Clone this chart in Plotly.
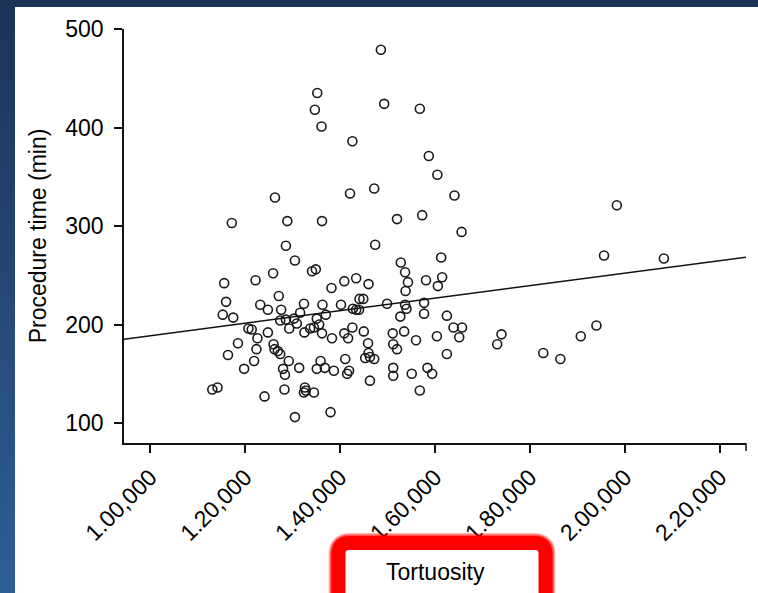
import plotly.graph_objects as go

# ---- data ----
tortuosity = [
    1.486, 1.352, 1.347, 1.361, 1.426, 1.493, 1.568, 1.587, 1.605, 1.263,
    1.421, 1.472, 1.172, 1.289, 1.362, 1.520, 1.573, 1.286, 1.474, 1.641,
    1.656, 1.983, 1.956, 2.082, 1.305, 1.259, 1.341, 1.349, 1.156, 1.222,
    1.409, 1.434, 1.460, 1.528, 1.537, 1.543, 1.538, 1.581, 1.606, 1.613,
    1.615, 1.382, 1.271, 1.160, 1.232, 1.248, 1.276, 1.324, 1.363, 1.402,
    1.441, 1.449, 1.427, 1.434, 1.440, 1.499, 1.537, 1.540, 1.577, 1.577,
    1.527, 1.625, 1.153, 1.175, 1.286, 1.274, 1.303, 1.309, 1.316, 1.351,
    1.356, 1.370, 1.207, 1.214, 1.248, 1.293, 1.325, 1.337, 1.345, 1.362,
    1.383, 1.426, 1.409, 1.417, 1.450, 1.459, 1.511, 1.535, 1.560, 1.604,
    1.639, 1.657, 1.651, 1.226, 1.185, 1.224, 1.260, 1.262, 1.269, 1.274,
    1.164, 1.219, 1.198, 1.292, 1.359, 1.411, 1.460, 1.453, 1.463, 1.472,
    1.512, 1.520, 1.625, 1.314, 1.280, 1.284, 1.351, 1.368, 1.387, 1.419,
    1.415, 1.512, 1.512, 1.551, 1.584, 1.594, 1.463, 1.131, 1.142, 1.283,
    1.326, 1.324, 1.328, 1.345, 1.568, 1.241, 1.380, 1.305, 1.740, 1.731,
    1.828, 1.864, 1.907, 1.940,
]
procedure_time = [
    479, 435, 418, 401, 386, 424, 419, 371, 352, 329,
    333, 338, 303, 305, 305, 307, 311, 280, 281, 331,
    294, 321, 270, 267, 265, 252, 254, 256, 242, 245,
    244, 247, 241, 263, 253, 243, 234, 245, 239, 268,
    248, 237, 229, 223, 220, 215, 215, 221, 220, 220,
    226, 226, 216, 215, 215, 221, 220, 216, 222, 211,
    208, 209, 210, 207, 205, 204, 206, 201, 212, 206,
    200, 210, 196, 195, 192, 196, 192, 196, 197, 191,
    186, 197, 191, 186, 193, 181, 191, 193, 184, 188,
    197, 197, 187, 186, 181, 175, 180, 175, 173, 170,
    169, 163, 155, 163, 163, 165, 171, 166, 167, 165,
    180, 175, 170, 156, 155, 149, 155, 156, 153, 153,
    150, 156, 148, 150, 156, 150, 143, 134, 136, 134,
    136, 131, 133, 131, 133, 127, 111, 106, 190, 180,
    171, 165, 188, 199,
]

# fitted regression line (end points)
fit_x = [0.945, 2.255]
fit_y = [185.1, 268.4]

x_tickvals = [1.0, 1.2, 1.4, 1.6, 1.8, 2.0, 2.2]
x_ticktext = ["1.00,000", "1.20,000", "1.40,000", "1.60,000", "1.80,000", "2.00,000", "2.20,000"]
y_tickvals = [100, 200, 300, 400, 500]
y_ticktext = ["100", "200", "300", "400", "500"]

x_title = "Tortuosity"
y_title = "Procedure time (min)"

FONT = "Liberation Sans, Arial, sans-serif"

fig = go.Figure()
fig.add_trace(go.Scatter(
    x=tortuosity, y=procedure_time, mode="markers",
    marker=dict(symbol="circle-open", size=9, color="#1a1a1a", line=dict(width=1.6, color="#1a1a1a")),
    showlegend=False, hoverinfo="x+y",
))
fig.add_trace(go.Scatter(
    x=fit_x, y=fit_y, mode="lines",
    line=dict(color="#111111", width=1.5),
    showlegend=False, hoverinfo="skip",
))

shapes = []
# background frame: navy top band and left gradient strip
shapes.append(dict(type="rect", xref="paper", yref="paper", xsizemode="pixel", ysizemode="pixel",
                   xanchor=0, yanchor=0, x0=-124, x1=700, y0=436, y1=460,
                   fillcolor="#1c3557", line=dict(width=0), layer="below"))
n = 40
c0 = (28, 52, 87)
c1 = (46, 94, 150)
top, bot = 436, -150
for i in range(n):
    t = i / (n - 1)
    col = tuple(int(round(c0[k] + (c1[k] - c0[k]) * t)) for k in range(3))
    ya = top - (top - bot) * i / n
    yb = top - (top - bot) * (i + 1) / n
    shapes.append(dict(type="rect", xref="paper", yref="paper", xsizemode="pixel", ysizemode="pixel",
                       xanchor=0, yanchor=0, x0=-130, x1=-109, y0=yb - 0.5, y1=ya + 0.5,
                       fillcolor="rgb(%d,%d,%d)" % col, line=dict(width=0), layer="below"))
# closing tick at end of x axis
shapes.append(dict(type="line", xref="paper", yref="paper", ysizemode="pixel", yanchor=0,
                   x0=1, x1=1, y0=0, y1=-8, line=dict(color="#111111", width=1.5)))

# red rounded highlight box around the x title
def rounded_box(l, r, t, b, rad):
    return (f"M {l},{b} L {l},{t - rad} Q {l},{t} {l + rad},{t} "
            f"L {r - rad},{t} Q {r},{t} {r},{t - rad} L {r},{b} Z")

box = rounded_box(214.5, 421.5, -100, -180, 11)
for w, op in [(20, 0.3), (17, 0.55)]:
    shapes.append(dict(type="path", xref="paper", yref="paper", xsizemode="pixel", ysizemode="pixel",
                       xanchor=0, yanchor=0, path=box, line=dict(color="rgba(255,0,0,%s)" % op, width=w),
                       fillcolor="rgba(0,0,0,0)", layer="above"))
shapes.append(dict(type="path", xref="paper", yref="paper", xsizemode="pixel", ysizemode="pixel",
                   xanchor=0, yanchor=0, path=box, line=dict(color="#ff0000", width=14),
                   fillcolor="white", layer="above"))

fig.update_layout(
    width=758, height=593,
    margin=dict(l=124, r=12, t=29, b=150),
    paper_bgcolor="white", plot_bgcolor="white",
    font=dict(family=FONT, size=23, color="black"),
    shapes=shapes,
    annotations=[dict(text=x_title, xref="paper", yref="paper", x=0.5, y=-0.3116,
                      xanchor="center", yanchor="middle", showarrow=False,
                      font=dict(family=FONT, size=23, color="black"))],
    xaxis=dict(range=[0.945, 2.255], tickvals=x_tickvals, ticktext=x_ticktext, tickangle=-45,
               showline=True, linecolor="#111111", linewidth=1.5, ticks="outside", ticklen=8,
               tickwidth=1.5, tickcolor="#111111", showgrid=False, zeroline=False,
               ticklabelstandoff=2,
               tickfont=dict(family=FONT, size=23)),
    yaxis=dict(range=[79.7, 500], tickvals=y_tickvals, ticktext=y_ticktext,
               showline=True, linecolor="#111111", linewidth=1.5, ticks="outside", ticklen=8,
               tickwidth=1.5, tickcolor="#111111", showgrid=False, zeroline=False,
               ticklabelstandoff=6,
               title=dict(text=y_title, font=dict(family=FONT, size=23), standoff=12),
               tickfont=dict(family=FONT, size=23)),
)

fig.write_html("out.html", config={"displayModeBar": False},
               post_script="document.body.style.margin='0';document.body.style.overflow='hidden';")
